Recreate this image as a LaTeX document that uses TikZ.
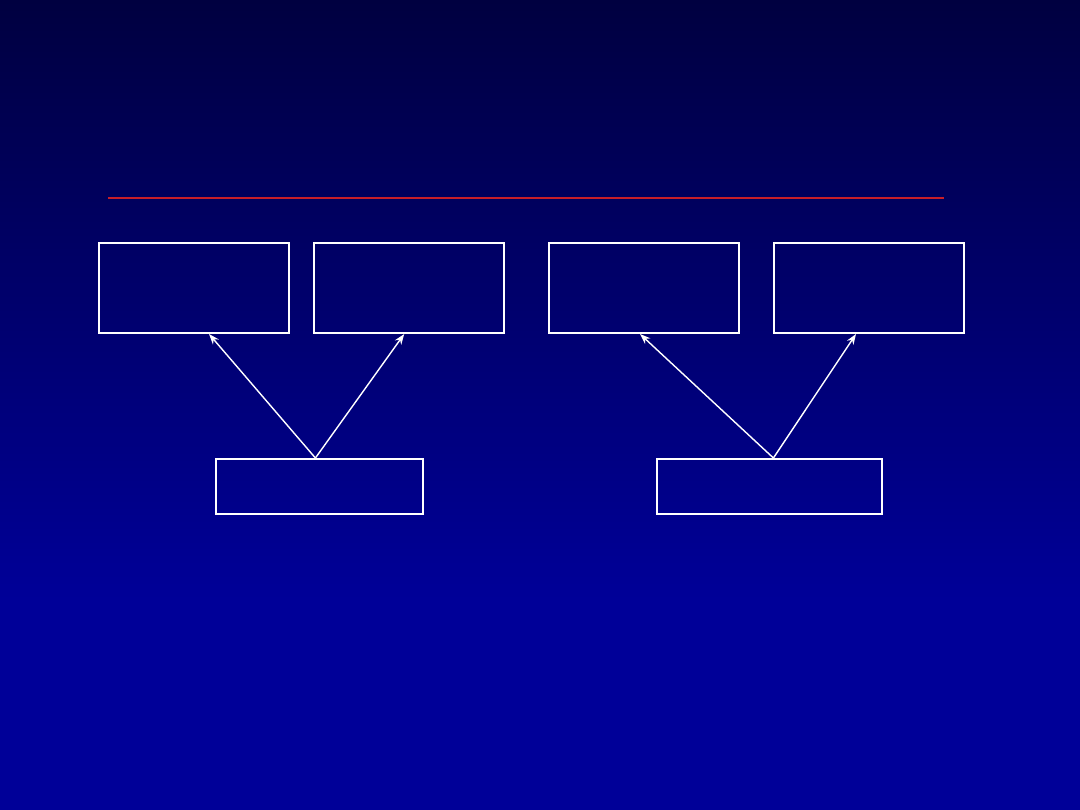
\documentclass[tikz,border=0pt]{standalone}
\usepackage{tikz}
\usetikzlibrary{arrows.meta,positioning}

\definecolor{slidetop}{RGB}{0,0,64}
\definecolor{slidebottom}{RGB}{0,0,152}
\definecolor{ruleRed}{RGB}{200,30,40}

\begin{document}
\begin{tikzpicture}[
                    x=0.025cm,
                    y=-0.025cm,
                    box/.style={draw=white, line width=1.4pt, rectangle, inner sep=0pt},
                    wide/.style={box, minimum width=4.75cm, minimum height=2.25cm},
                    link/.style={draw=white, line width=1pt, -{Stealth[length=7.5pt,width=5.5pt]}}
                ]
                % background
                \useasboundingbox (0,0) rectangle (1080,810);
                \shade[top color=slidetop, bottom color=slidebottom] (0,0) rectangle (1080,600);
                \fill[slidebottom] (0,599) rectangle (1080,810);
                \draw[ruleRed, line width=1.6pt] (108,198) -- (944,198);

                \node[wide, anchor=north west] (top-1) at (98,242) {};
                \node[wide, right=0.58cm of top-1] (top-2) {};
                \node[wide, anchor=north west] (top-3) at (548,242) {};
                \node[wide, right=0.825cm of top-3] (top-4) {};
                \node[box, minimum width=5.17cm, minimum height=1.37cm, anchor=north west] (root-1) at (215,458) {};
                \node[box, minimum width=5.62cm, minimum height=1.37cm, anchor=north west] (root-2) at (656,458) {};

                \path
                ([xshift=-0.1cm]root-1.north) edge[link] ([xshift=0.375cm]top-1.south)
                ([xshift=-0.1cm]root-1.north) edge[link] ([xshift=-0.125cm]top-2.south)
                ([xshift=0.1cm]root-2.north) edge[link] ([xshift=-0.1cm]top-3.south)
                ([xshift=0.1cm]root-2.north) edge[link] ([xshift=-0.325cm]top-4.south)
                ;
            \end{tikzpicture}
\end{document}
